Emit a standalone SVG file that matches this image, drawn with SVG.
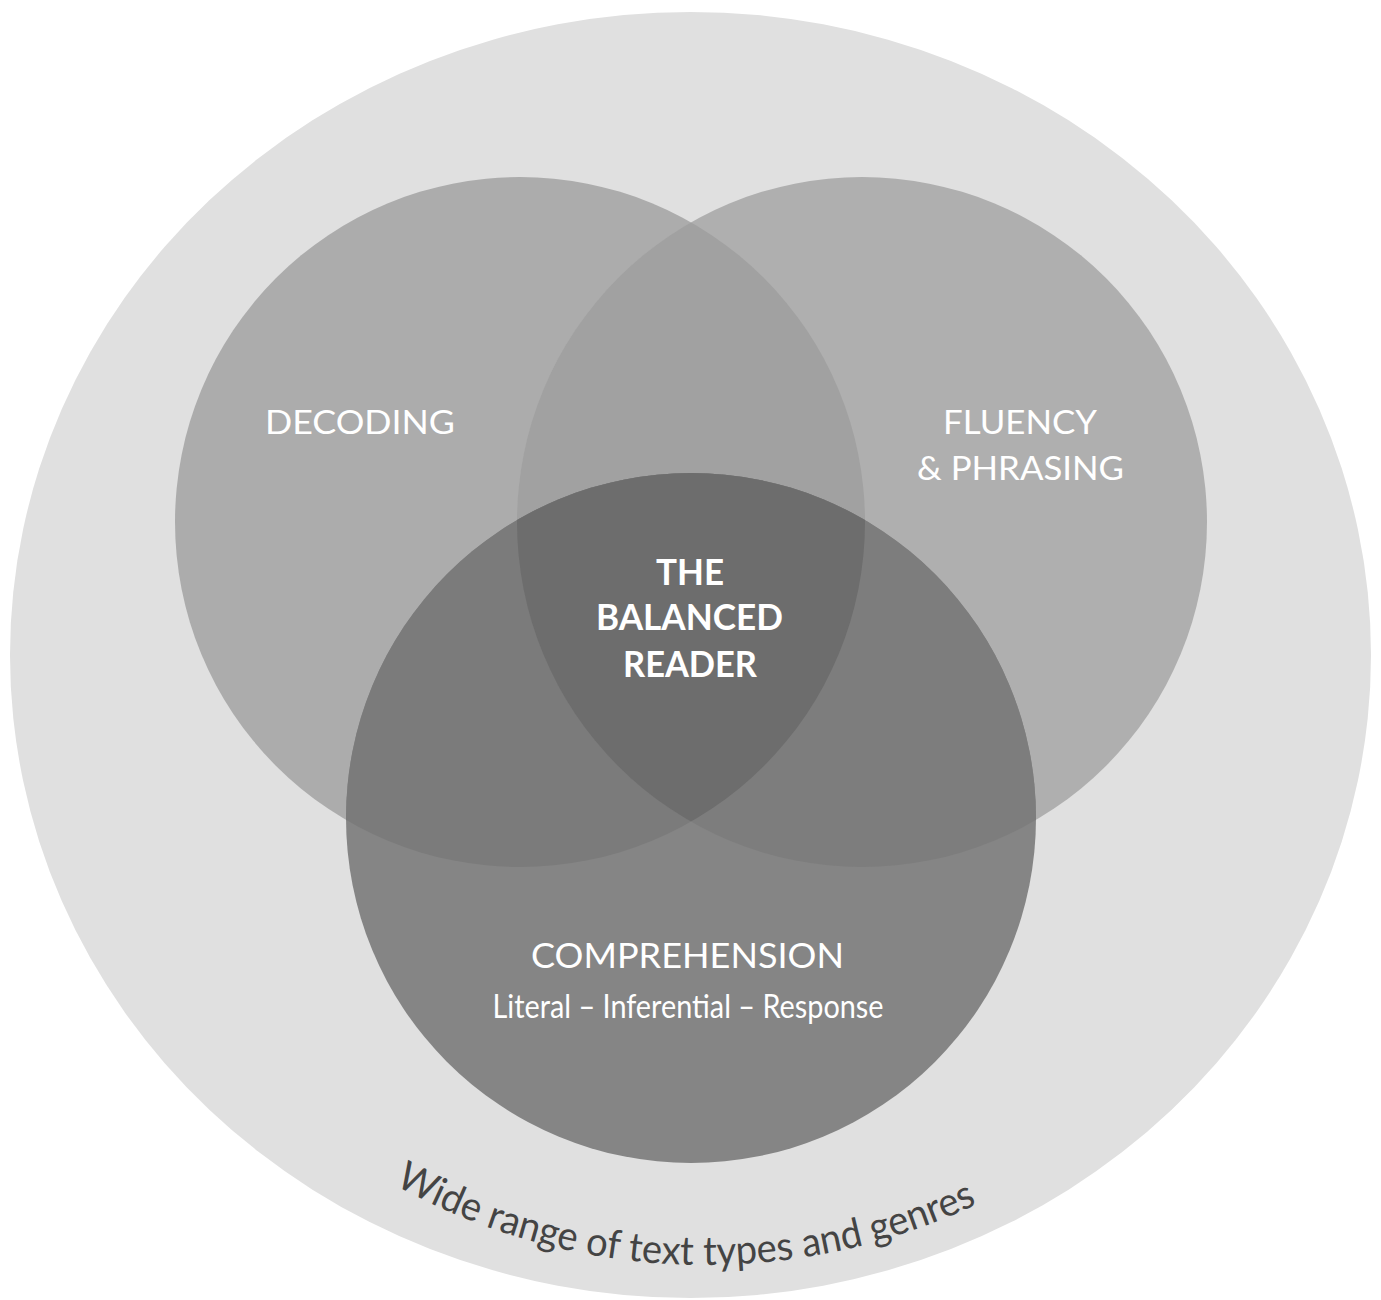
<svg xmlns="http://www.w3.org/2000/svg" width="1381" height="1300" viewBox="0 0 1381 1300">
  <style>
    .lbl { font-family: Lato, "Open Sans", "Liberation Sans", sans-serif; fill: #ffffff; text-anchor: middle; }
    .reg { font-weight: 400; }
    .bold { font-weight: 700; }
    .arc { font-family: Lato, "Open Sans", "Liberation Sans", sans-serif; fill: #444444; font-size: 40px; }
  </style>
  <defs>
    <clipPath id="clipDec"><circle cx="520" cy="522" r="345"/></clipPath>
    <clipPath id="clipFlu"><circle cx="862" cy="522" r="345"/></clipPath>
    <path id="arcPath" d="M 394.7 1184.8 A 640 640 0 0 0 990.6 1197.7"/>
  </defs>
  <rect width="1381" height="1300" fill="#ffffff"/>

  <g id="outer">
    <ellipse cx="690.5" cy="655" rx="680.5" ry="643" fill="#e0e0e0"/>
  </g>

  <g id="decoding">
    <circle cx="520" cy="522" r="345" fill="#acacac"/>
  </g>
  <g id="fluency">
    <circle cx="862" cy="522" r="345" fill="#afafaf"/>
  </g>
  <g id="comprehension">
    <circle cx="691" cy="818" r="345" fill="#858585"/>
  </g>

  <g id="overlaps">
    <g clip-path="url(#clipDec)">
      <circle cx="862" cy="522" r="345" fill="#a1a1a1"/>
      <circle cx="691" cy="818" r="345" fill="#7b7b7b"/>
    </g>
    <g clip-path="url(#clipFlu)">
      <circle cx="691" cy="818" r="345" fill="#7d7d7d"/>
    </g>
    <g id="balanced-reader" clip-path="url(#clipDec)">
      <g clip-path="url(#clipFlu)">
        <circle cx="691" cy="818" r="345" fill="#6d6d6d"/>
      </g>
    </g>
  </g>

  <g id="labels">
    <text class="lbl reg" x="360" y="434" font-size="32.5" textLength="190" lengthAdjust="spacingAndGlyphs">DECODING</text>
    <text class="lbl reg" x="1020" y="434" font-size="32.5" textLength="154" lengthAdjust="spacingAndGlyphs">FLUENCY</text>
    <text class="lbl reg" x="1020.5" y="480" font-size="32.5" textLength="207" lengthAdjust="spacingAndGlyphs">&amp; PHRASING</text>
    <text class="lbl bold" x="690" y="585" font-size="36" textLength="68" lengthAdjust="spacingAndGlyphs">THE</text>
    <text class="lbl bold" x="689.5" y="630" font-size="36" textLength="187" lengthAdjust="spacingAndGlyphs">BALANCED</text>
    <text class="lbl bold" x="690" y="677" font-size="36" textLength="134" lengthAdjust="spacingAndGlyphs">READER</text>
    <text class="lbl reg" x="687.5" y="968" font-size="35" textLength="313" lengthAdjust="spacingAndGlyphs">COMPREHENSION</text>
    <text class="lbl reg" x="688" y="1018" font-size="33" textLength="391" lengthAdjust="spacingAndGlyphs">Literal – Inferential – Response</text>
  </g>

  <g id="outer-label">
    <text class="arc"><textPath href="#arcPath" textLength="605" lengthAdjust="spacingAndGlyphs">Wide range of text types and genres</textPath></text>
  </g>
</svg>
